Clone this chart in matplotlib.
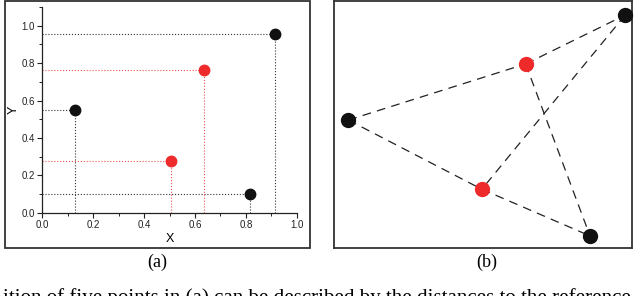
import matplotlib
matplotlib.use("Agg")
import matplotlib.pyplot as plt
from matplotlib.patches import Rectangle
from matplotlib.ticker import MultipleLocator

# Panel (a) data
a_black_x = [0.13, 0.915, 0.815]
a_black_y = [0.547, 0.958, 0.098]
a_red_x = [0.635, 0.507]
a_red_y = [0.763, 0.276]
x_ticks = [0.0, 0.2, 0.4, 0.6, 0.8, 1.0]
y_ticks = [0.0, 0.2, 0.4, 0.6, 0.8, 1.0]

# Panel (b) data (normalized positions)
b_names = ["L", "R1", "TR", "R2", "B"]
b_x = [0.048, 0.643, 0.977, 0.496, 0.859]
b_y = [0.518, 0.745, 0.943, 0.238, 0.049]
b_red = ["R1", "R2"]
b_edges = [("L", "R1"), ("R1", "TR"), ("L", "R2"), ("R2", "B"), ("TR", "R2"), ("R1", "B")]

W, H = 640, 296
fig = plt.figure(figsize=(6.4, 2.96), dpi=100)

def fx(px):
    return px / W

def fy(py):
    return 1 - py / H

BLACK = "#111111"
RED = "#ee2a2a"
RED_LINE = "#f05050"
frame_col = "#333333"

# Frame (a)
fig.patches.append(Rectangle((fx(5), fy(248)), fx(310) - fx(5), fy(1) - fy(248),
                             transform=fig.transFigure, fill=False, ec=frame_col, lw=1.3))

ax = fig.add_axes([fx(42.3), fy(212.7), fx(296.7) - fx(42.3), fy(7) - fy(212.7)])
ax.set_xlim(0, 1.0)
ax.set_ylim(0, 1.1)
for s in ["top", "right"]:
    ax.spines[s].set_visible(False)
for s in ["left", "bottom"]:
    ax.spines[s].set_linewidth(0.9)
    ax.spines[s].set_color("#222222")
ax.set_xticks(x_ticks)
ax.set_yticks(y_ticks)
ax.set_xticklabels([f"{v:.1f}" for v in x_ticks])
ax.set_yticklabels([f"{v:.1f}" for v in y_ticks])
ax.xaxis.set_minor_locator(MultipleLocator(0.1))
ax.yaxis.set_minor_locator(MultipleLocator(0.1))
ax.tick_params(which="major", direction="out", length=3.5, width=0.8, labelsize=7, pad=2, colors="#222222")
ax.tick_params(which="minor", direction="out", length=2, width=0.7, colors="#222222")
for lab in ax.get_xticklabels() + ax.get_yticklabels():
    lab.set_fontfamily("Liberation Sans")
ax.set_xlabel("X", fontsize=9, fontfamily="Liberation Sans")
ax.set_ylabel("Y", fontsize=9, fontfamily="Liberation Sans")
ax.xaxis.set_label_coords(0.5, -0.099)
ax.yaxis.set_label_coords(-0.088, 0.5)
ax.patch.set_alpha(0)

for xs, ys, lc, mc in [(a_black_x, a_black_y, "#333333", BLACK), (a_red_x, a_red_y, RED_LINE, RED)]:
    for x, y in zip(xs, ys):
        ax.plot([0, x], [y, y], ls=":", color=lc, lw=0.8, zorder=2)
        ax.plot([x, x], [0, y], ls=":", color=lc, lw=0.8, zorder=2)
    ax.plot(xs, ys, "o", color=mc, ms=7.5, zorder=3, clip_on=False)

fig.text(fx(157), fy(262), "(a)", ha="center", va="center", fontsize=13, fontfamily="Liberation Serif")

# Panel (b)
bx = fig.add_axes([fx(334), fy(248), fx(632) - fx(334), fy(1) - fy(248)])
bx.set_xlim(0, 1)
bx.set_ylim(0, 1)
bx.set_xticks([])
bx.set_yticks([])
for s in bx.spines.values():
    s.set_linewidth(1.3)
    s.set_color(frame_col)
pos = {n: (x, y) for n, x, y in zip(b_names, b_x, b_y)}
for a, b in b_edges:
    bx.plot([pos[a][0], pos[b][0]], [pos[a][1], pos[b][1]], color="#222222", lw=0.9,
            dashes=(7, 5), zorder=2)
for n in b_names:
    bx.plot(*pos[n], "o", color=RED if n in b_red else BLACK, ms=10, zorder=3, clip_on=False)

fig.text(fx(487), fy(262), "(b)", ha="center", va="center", fontsize=13, fontfamily="Liberation Serif")

fig.text(fx(3), fy(303), "ition of five points in (a) can be described by the distances to the reference",
         ha="left", va="baseline", fontsize=15.1, fontfamily="Liberation Serif")

fig.savefig("out.png", dpi=100)
